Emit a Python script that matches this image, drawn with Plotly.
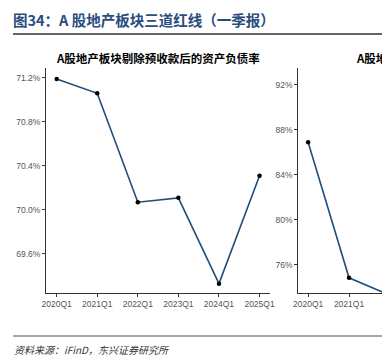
import plotly.graph_objects as go

quarters = ["2020Q1", "2021Q1", "2022Q1", "2023Q1", "2024Q1", "2025Q1"]
debt_ratio_ex_adv = [71.19, 71.06, 70.07, 70.11, 69.33, 70.31]  # %
net_gearing = [86.9, 74.85, 73.3]  # %, only first quarters visible

# page body has an 8px margin; figure placed at (8, 8)
OFF = 8
W, H = 390 - OFF, 357 - OFF
def py(p):  # reference pixel y from top -> paper
    return 1 - (p - OFF) / H
def px(p):
    return (p - OFF) / W

LINE = "#1F4E79"
fig = go.Figure()
fig.add_trace(go.Scatter(x=quarters, y=debt_ratio_ex_adv, mode="lines+markers",
                         line=dict(color=LINE, width=1.6),
                         marker=dict(color="black", size=4.5),
                         xaxis="x", yaxis="y", showlegend=False, cliponaxis=False))
fig.add_trace(go.Scatter(x=quarters[:3], y=net_gearing, mode="lines+markers",
                         line=dict(color=LINE, width=1.6),
                         marker=dict(color="black", size=4.5),
                         xaxis="x2", yaxis="y2", showlegend=False))

axis_common = dict(showline=True, linecolor="#333333", linewidth=1, ticks="outside",
                   ticklen=3, tickcolor="#333333", showgrid=False, zeroline=False,
                   tickfont=dict(family="Liberation Sans, Arial", size=8.5, color="#555555"))

fig.update_layout(
    width=W, height=H, margin=dict(l=0, r=0, t=0, b=0),
    paper_bgcolor="white", plot_bgcolor="white",
    xaxis=dict(domain=[px(42), px(272)], type="category", range=[-0.26, 5.26],
               anchor="y", **axis_common),
    yaxis=dict(domain=[py(293), py(68)], range=[69.245, 71.29],
               tickvals=[69.6, 70.0, 70.4, 70.8, 71.2],
               ticktext=["69.6%", "70.0%", "70.4%", "70.8%", "71.2%"],
               anchor="x", **axis_common),
    xaxis2=dict(domain=[px(301), 1.0], type="category", range=[-0.24, 1.88],
                anchor="y2", **axis_common),
    yaxis2=dict(domain=[py(293), py(68)], range=[73.5, 93.5],
                tickvals=[76, 80, 84, 88, 92],
                ticktext=["76%", "80%", "84%", "88%", "92%"],
                anchor="x2", **axis_common),
    shapes=[
        dict(type="line", xref="paper", yref="paper", x0=0, x1=1, y0=py(34), y1=py(34),
             line=dict(color="#333333", width=1.5)),
        dict(type="line", xref="paper", yref="paper", x0=0, x1=1, y0=py(336), y1=py(336),
             line=dict(color="#888888", width=1.5)),
    ],
    annotations=[
        dict(text="<b>图34：A 股地产板块三道红线（一季报）</b>", xref="paper", yref="paper",
             x=px(6), y=py(19), xanchor="left", yanchor="middle", showarrow=False,
             font=dict(family="Noto Sans CJK SC", size=14.5, color="#2B4C7E")),
        dict(text="<b>A股地产板块剔除预收款后的资产负债率</b>", xref="paper", yref="paper",
             x=px(157), y=py(58), xanchor="center", yanchor="middle", showarrow=False,
             font=dict(family="Noto Sans CJK SC", size=11.5, color="black")),
        dict(text="<b>A股地产板块净负债率</b>", xref="paper", yref="paper",
             x=px(358), y=py(58), xanchor="left", yanchor="middle", showarrow=False,
             font=dict(family="Noto Sans CJK SC", size=11.5, color="black")),
        dict(text="<i>资料来源：iFinD，东兴证券研究所</i>", xref="paper", yref="paper",
             x=px(7), y=py(349), xanchor="left", yanchor="middle", showarrow=False,
             font=dict(family="Noto Sans CJK SC", size=10, color="#333333")),
    ],
)

fig.write_html("out.html")
